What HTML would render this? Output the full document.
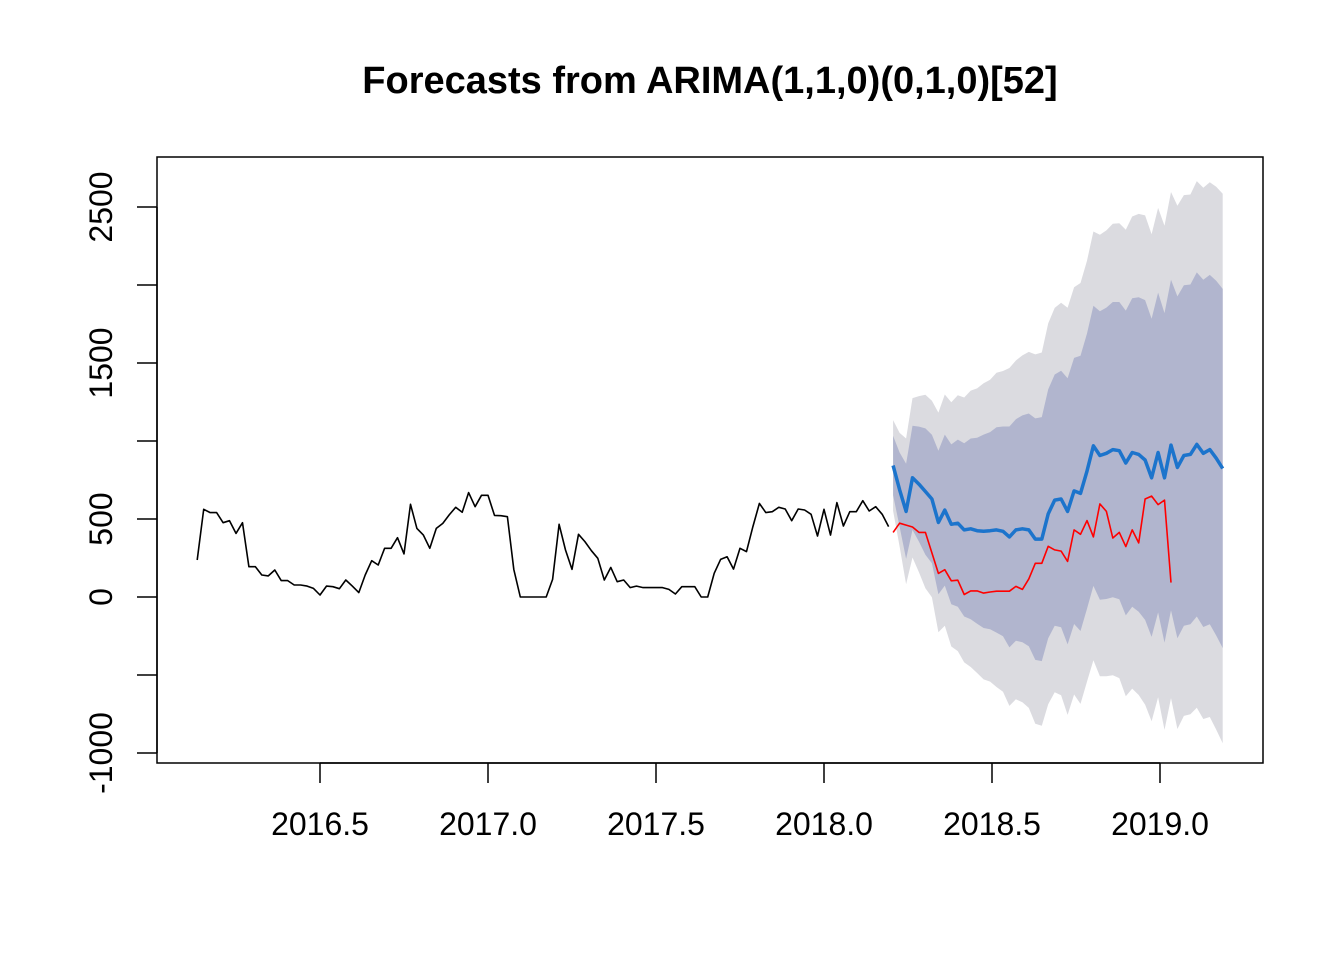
<!DOCTYPE html>
<html><head><meta charset="utf-8"><style>
html,body{margin:0;padding:0;background:#fff;}
svg{display:block;font-family:"Liberation Sans",Arial,sans-serif;}
</style></head><body>
<svg id="chart" width="1344" height="960" viewBox="0 0 1344 960" xmlns="http://www.w3.org/2000/svg">
<rect width="1344" height="960" fill="#fff"/>
<text x="710" y="93" text-anchor="middle" font-size="38" font-weight="bold">Forecasts from ARIMA(1,1,0)(0,1,0)[52]</text>
<g id="bands"></g>
<g id="lines"></g>
<rect x="157" y="157" width="1106" height="606" fill="none" stroke="#000" stroke-width="1.5"/>
<g id="axes"></g>
</svg>
<script>
const histStart = 2016 + 7/52;
const histValues = [237,562,541,541,476,489,408,476,194,194,141,135,173,105,105,77,77,70,55,13,70,66,53,109,70,28,141,233,205,312,312,380,276,594,440,397,312,440,472,526,575,543,669,579,652,652,523,521,515,177,0,0,0,0,
0,113,466,301,177,402,355,297,248,109,190,98,109,60,70,60,60,60,60,49,19,66,66,66,0,0,152,241,258,179,312,291,451,600,541,547,575,564,489,564,558,530,391,562,397,605,455,547,547,617,551,579,530,451];
const fcStart = histStart + (histValues.length-0.3)/52;
const fcMean = [843,688,549,764,723,676,628,478,557,466,473,430,437,425,421,425,430,421,385,430,437,430,371,371,533,621,628,549,680,664,807,969,907,921,945,938,859,926,914,878,764,926,764,974,831,907,914,978,921,945,890,824];
const hw80 = [190,238,305,334,369,405,412,460,484,512,536,555,579,596,620,632,658,672,708,710,727,746,774,782,798,805,822,853,853,882,882,898,925,934,946,953,977,989,1008,1025,1020,1025,1056,1060,1096,1091,1089,1103,1113,1120,1137,1151];
const hw95 = [291,364,467,511,565,620,630,704,741,783,820,849,886,912,949,967,1007,1028,1083,1086,1112,1141,1184,1196,1221,1232,1258,1305,1305,1349,1349,1374,1415,1429,1447,1458,1495,1513,1542,1568,1561,1568,1616,1622,1677,1669,1666,1688,1703,1714,1740,1761];
const testValues = [414,473,461,449,414,414,283,151,175,104,108,16,39,39,25,32,37,37,37,68,49,116,216,216,325,302,294,228,430,402,490,385,597,549,378,414,323,430,347,628,647,592,621,92];
const xTicks = [2016.5,2017.0,2017.5,2018.0,2018.5,2019.0];
const xTickLabels = ["2016.5","2017.0","2017.5","2018.0","2018.5","2019.0"];
const yTicks = [-1000,-500,0,500,1000,1500,2000,2500];
const yTickLabels = ["-1000","","0","500","","1500","","2500"];

const NS="http://www.w3.org/2000/svg";
const X = t => 320 + (t-2016.5)*336;
const Y = v => 597 - v*0.156;
function mk(tag, attrs, parent){const e=document.createElementNS(NS,tag);for(const k in attrs)e.setAttribute(k,attrs[k]);parent.appendChild(e);return e;}
const bands=document.getElementById('bands'), lines=document.getElementById('lines'), axes=document.getElementById('axes');
function bandPath(hw){
  let up=fcMean.map((m,i)=>X(fcStart+i/52).toFixed(1)+','+Y(m+hw[i]).toFixed(1));
  let lo=fcMean.map((m,i)=>X(fcStart+i/52).toFixed(1)+','+Y(m-hw[i]).toFixed(1)).reverse();
  return up.concat(lo).join(' ');
}
const b95=mk('polygon',{points:bandPath(hw95),fill:'#DBDBE0'},bands);


const b80=mk('polygon',{points:bandPath(hw80),fill:'#B1B5CE'},bands);


function line(vals,start,attrs){return mk('polyline',Object.assign({points:vals.map((v,i)=>X(start+i/52).toFixed(1)+','+Y(v).toFixed(1)).join(' '),fill:'none','stroke-linejoin':'round'},attrs),lines);}
const lh=line(histValues,histStart,{stroke:'#000','stroke-width':1.6});


const lt=line(testValues,fcStart,{stroke:'#FF0000','stroke-width':1.6});


const lm=line(fcMean,fcStart,{stroke:'#1C74CC','stroke-width':3.5});


// x axis
mk('line',{x1:X(xTicks[0]),x2:X(xTicks[xTicks.length-1]),y1:763,y2:763,stroke:'#000','stroke-width':1.5},axes);
xTicks.forEach((t,i)=>{
  const tk=mk('line',{x1:X(t),x2:X(t),y1:763,y2:783,stroke:'#000','stroke-width':1.5},axes);
  
  
  const tx=mk('text',{x:X(t),y:835,'text-anchor':'middle','font-size':32},axes);
  tx.textContent=xTickLabels[i];
  
  
});
// y axis
mk('line',{x1:157,x2:157,y1:Y(yTicks[0]),y2:Y(yTicks[yTicks.length-1]),stroke:'#000','stroke-width':1.5},axes);
yTicks.forEach((v,i)=>{
  const tk=mk('line',{x1:137,x2:157,y1:Y(v),y2:Y(v),stroke:'#000','stroke-width':1.5},axes);
  
  
  if(yTickLabels[i]){
    const tx=mk('text',{x:0,y:0,'text-anchor':'middle','font-size':32,transform:'translate(112,'+Y(v)+') rotate(-90)'},axes);
    tx.textContent=yTickLabels[i];
    
    
  }
});
</script>
</body></html>
